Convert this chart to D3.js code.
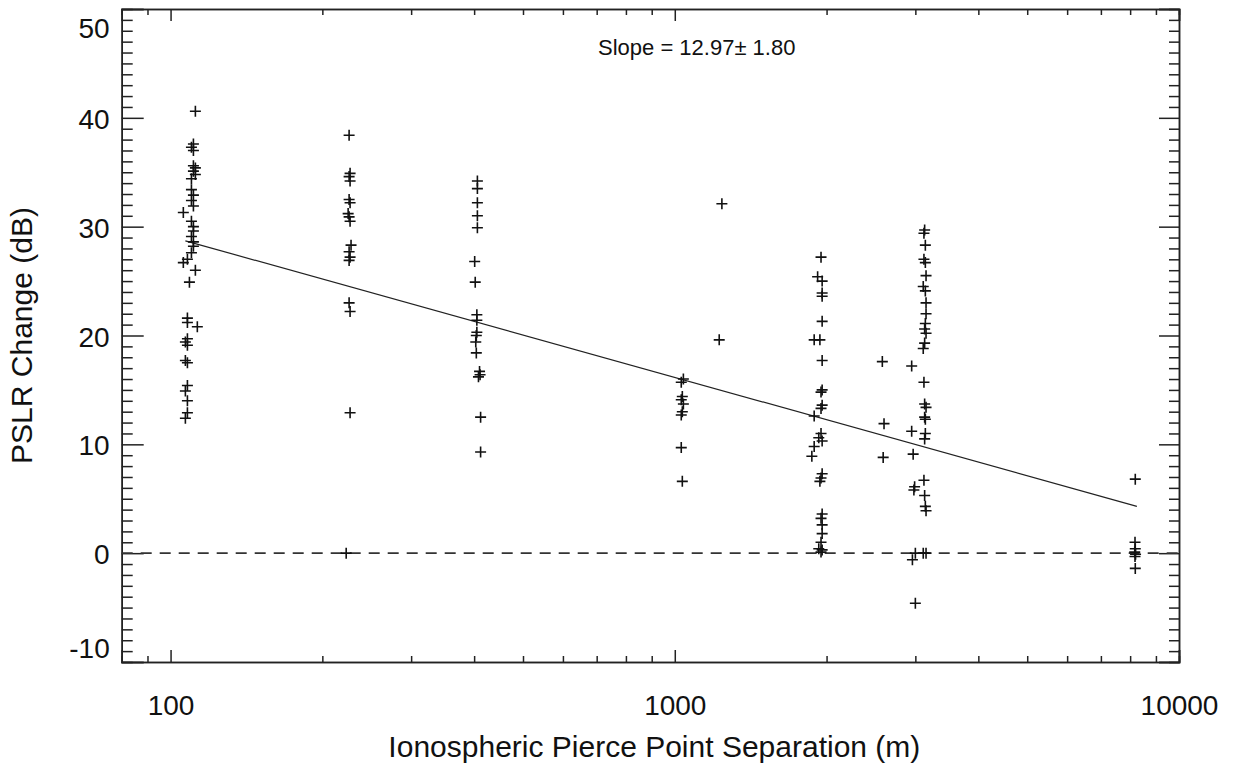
<!DOCTYPE html>
<html>
<head>
<meta charset="utf-8">
<script src="https://cdn.jsdelivr.net/npm/d3@7"></script>
<style>
  body { margin: 0; background: #fff; }
  svg { display: block; font-family: "Liberation Sans", Arial, Helvetica, sans-serif; }
  .axis path, .axis line { stroke: #222; stroke-width: 1.5; }
</style>
</head>
<body>
<div id="chart"></div>
<script>
// Séparation (m) et variation du PSLR (dB), par groupe de séparation
const group110 = [[112,40.6],[111,37.6],[110,37.3],[111,37.0],[111,35.6],[112,35.4],[111,35.1],[112,34.8],[110,34.4],
  [110,33.4],[111,32.9],[110,32.4],[111,31.9],[106,31.3],[110,30.5],[111,30.0],[111,29.6],[110,29.1],[111,28.6],
  [111,28.2],[110,27.6],[108,27.0],[106,26.7],[112,26.0],[109,24.9],[108,21.6],[108,21.2],[113,20.8],[108,19.7],
  [107,19.4],[108,19.1],[107,17.7],[108,17.5],[108,15.4],[107,14.9],[108,14.0],[108,12.9],[107,12.4]];
const group226 = [[226,38.4],[227,34.9],[226,34.6],[227,34.2],[226,32.5],[227,32.2],[225,31.2],[226,30.9],[227,30.5],
  [228,28.3],[226,27.7],[227,27.2],[226,26.9],[226,23.0],[227,22.2],[227,12.9],[223,0.0]];
const group406 = [[406,34.2],[406,33.5],[406,32.2],[406,31.0],[406,29.9],[401,26.8],[402,24.9],[405,21.9],[405,21.4],
  [405,20.3],[404,20.0],[403,19.4],[404,18.4],[410,16.7],[411,16.4],[408,16.2],[412,12.5],[412,9.3]];
const group1040 = [[1040,16.0],[1030,15.7],[1035,14.4],[1030,14.1],[1040,13.7],[1035,13.0],[1030,12.7],[1030,9.7],
  [1035,6.6],[1240,32.1],[1225,19.6]];
const group1950 = [[1950,27.2],[1920,25.4],[1960,25.0],[1960,23.9],[1960,23.6],[1960,21.3],[1890,19.6],[1940,19.6],
  [1960,17.7],[1960,15.0],[1950,14.8],[1960,13.6],[1950,13.3],[1890,12.6],[1950,11.0],[1930,10.6],[1960,10.3],
  [1890,9.8],[1870,8.9],[1960,7.3],[1950,6.9],[1940,6.6],[1960,3.6],[1950,3.2],[1960,2.6],[1960,1.8],[1950,1.0],
  [1930,0.4],[1950,0.1],[1960,0.3]];
const group2590 = [[2580,17.6],[2600,11.9],[2590,8.8]];
const group3100 = [[3130,29.7],[3120,29.4],[3140,28.3],[3120,27.0],[3140,26.7],[3150,25.5],[3110,24.5],[3140,24.1],
  [3150,23.0],[3150,22.0],[3140,21.1],[3130,20.6],[3150,20.2],[3130,19.3],[3110,18.8],[2950,17.2],[3120,15.7],
  [3130,13.7],[3150,13.4],[3130,12.5],[3140,12.3],[2950,11.2],[3140,11.0],[3130,10.5],[2970,9.1],[3120,6.7],
  [2990,6.1],[2980,5.8],[3130,5.3],[3140,4.3],[3150,3.9],[3000,0.0],[3110,0.0],[3150,0.0],[2960,-0.6],[3000,-4.6]];
const group8190 = [[8190,6.8],[8180,1.0],[8190,0.4],[8170,0.1],[8200,-0.1],[8180,-0.3],[8190,-1.4]];

// Droite d'ajustement (extrémités)
const fitLine = [[107, 28.7], [8250, 4.3]];
const slopeLabel = "Slope = 12.97\u00b1 1.80";

// Graduations
const xMajorTicks = [100, 1000, 10000];
const xMinorTicks = [90, 200, 300, 400, 500, 600, 700, 800, 900, 2000, 3000, 4000, 5000, 6000, 7000, 8000, 9000];
const yMajorTicks = [-10, 0, 10, 20, 30, 40, 50];

const xTitle = "Ionospheric Pierce Point Separation (m)";
const yTitle = "PSLR Change (dB)";

function createChart() {
    const W = 1235, H = 767;
    const margin = { top: 9, right: 56, bottom: 105, left: 121.7 };
    const width = W - margin.left - margin.right;
    const height = H - margin.top - margin.bottom;

    const points = [].concat(group110, group226, group406, group1040, group1950, group2590, group3100, group8190);
    const yMinorTicks = d3.range(-10, 51).filter(v => !yMajorTicks.includes(v));

    const svg = d3.select("#chart")
        .append("svg")
        .attr("width", W)
        .attr("height", H)
        .append("g")
        .attr("transform", `translate(${margin.left},${margin.top})`);

    const x = d3.scaleLog().domain([80, 10000]).range([0, width]);
    const y = d3.scaleLinear().domain([-10, 50]).range([height, 0]);

    // Axes : graduations majeures et mineures sur les quatre côtés
    const fmt = d => String(d);
    const bottom = svg.append("g")
        .attr("class", "axis")
        .attr("transform", `translate(0,${height})`)
        .call(d3.axisBottom(x).tickValues(xMajorTicks).tickFormat(fmt).tickSize(-12).tickPadding(0));
    bottom.selectAll("text")
        .attr("y", 53).attr("dy", null)
        .style("font-size", "28px").attr("fill", "#111");

    svg.append("g")
        .attr("class", "axis")
        .attr("transform", `translate(0,${height})`)
        .call(d3.axisBottom(x).tickValues(xMinorTicks).tickFormat("").tickSize(-6));

    svg.append("g")
        .attr("class", "axis")
        .call(d3.axisTop(x).tickValues(xMajorTicks).tickFormat("").tickSize(-12));
    svg.append("g")
        .attr("class", "axis")
        .call(d3.axisTop(x).tickValues(xMinorTicks).tickFormat("").tickSize(-6));

    const left = svg.append("g")
        .attr("class", "axis")
        .call(d3.axisLeft(y).tickValues(yMajorTicks).tickFormat(fmt).tickSize(-22).tickPadding(12));
    left.selectAll("text")
        .style("font-size", "28px").attr("fill", "#111")
        .attr("dy", d => d === 50 ? "1.0em" : d === -10 ? "-0.15em" : "0.38em");

    svg.append("g")
        .attr("class", "axis")
        .call(d3.axisLeft(y).tickValues(yMinorTicks).tickFormat("").tickSize(-11));

    svg.append("g")
        .attr("class", "axis")
        .attr("transform", `translate(${width},0)`)
        .call(d3.axisRight(y).tickValues(yMajorTicks).tickFormat("").tickSize(-20));
    svg.append("g")
        .attr("class", "axis")
        .attr("transform", `translate(${width},0)`)
        .call(d3.axisRight(y).tickValues(yMinorTicks).tickFormat("").tickSize(-10));

    svg.selectAll(".axis .domain").attr("stroke-width", 1.8);

    // Ligne zéro en tirets
    svg.append("line")
        .attr("x1", 0).attr("x2", width)
        .attr("y1", y(0)).attr("y2", y(0))
        .attr("stroke", "#333")
        .attr("stroke-width", 1.6)
        .attr("stroke-dasharray", "11,8");

    // Droite d'ajustement
    svg.append("path")
        .datum(fitLine)
        .attr("fill", "none")
        .attr("stroke", "#222")
        .attr("stroke-width", 1.2)
        .attr("d", d3.line().x(d => x(d[0])).y(d => y(d[1])));

    // Points (croix)
    const s = 5.5;
    svg.selectAll(".pt")
        .data(points)
        .enter()
        .append("path")
        .attr("class", "pt")
        .attr("fill", "none")
        .attr("stroke", "#111")
        .attr("stroke-width", 1.6)
        .attr("d", d => {
            const px = x(d[0]), py = y(d[1]);
            return `M${px - s},${py}H${px + s}M${px},${py - s}V${py + s}`;
        });

    // Texte de la pente
    svg.append("text")
        .attr("x", 598 - margin.left)
        .attr("y", 55 - margin.top)
        .style("font-size", "22px")
        .attr("fill", "#111")
        .text(slopeLabel);

    // Titres des axes
    svg.append("text")
        .attr("x", width / 2 + 4)
        .attr("y", 757 - margin.top)
        .attr("text-anchor", "middle")
        .style("font-size", "30px")
        .attr("fill", "#111")
        .text(xTitle);

    svg.append("text")
        .attr("transform", `translate(${32 - margin.left},${height / 2}) rotate(-90)`)
        .attr("text-anchor", "middle")
        .style("font-size", "30px")
        .attr("fill", "#111")
        .text(yTitle);
}

createChart();
</script>
</body>
</html>
